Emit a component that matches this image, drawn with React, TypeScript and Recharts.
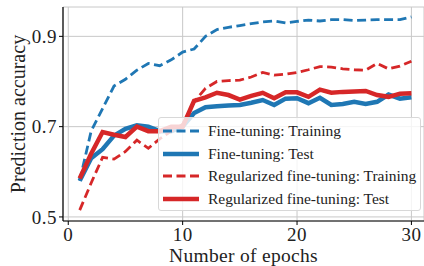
import React from "react";
import { LineChart, Line, XAxis, YAxis, CartesianGrid } from "recharts";

const epochs = [
  1, 2, 3, 4, 5, 6, 7, 8, 9, 10, 11, 12, 13, 14, 15, 16, 17, 18, 19, 20, 21,
  22, 23, 24, 25, 26, 27, 28, 29, 30,
];

const ftTrain = [
  0.58, 0.69, 0.74, 0.79, 0.805, 0.825, 0.84, 0.835, 0.848, 0.865, 0.872, 0.9,
  0.915, 0.92, 0.924, 0.928, 0.932, 0.934, 0.93, 0.933, 0.936, 0.934, 0.937,
  0.937, 0.935, 0.936, 0.937, 0.937, 0.937, 0.943,
];

const ftTest = [
  0.58, 0.63, 0.65, 0.68, 0.695, 0.703, 0.7, 0.69, 0.69, 0.7, 0.73, 0.743,
  0.745, 0.747, 0.748, 0.753, 0.759, 0.748, 0.762, 0.763, 0.752, 0.764, 0.748,
  0.75, 0.755, 0.75, 0.755, 0.771, 0.762, 0.765,
];

const regTrain = [
  0.515, 0.575, 0.632, 0.628, 0.645, 0.67, 0.652, 0.673, 0.69, 0.705, 0.755,
  0.785, 0.8, 0.802, 0.803, 0.81, 0.82, 0.814, 0.816, 0.82, 0.826, 0.833,
  0.832, 0.828, 0.826, 0.825, 0.84, 0.828, 0.834, 0.845,
];

const regTest = [
  0.585, 0.64, 0.688, 0.682, 0.677, 0.7, 0.69, 0.69, 0.7, 0.7, 0.757, 0.765,
  0.775, 0.77, 0.76, 0.768, 0.775, 0.763, 0.776, 0.776, 0.766, 0.782, 0.775,
  0.777, 0.778, 0.779, 0.77, 0.766, 0.773, 0.774,
];

const xTicks = [0, 10, 20, 30];
const yTicks = [0.5, 0.7, 0.9];

const BLUE = "#1f77b4";
const RED = "#d62728";
const FONT = "'Liberation Serif', 'DejaVu Serif', serif";
const DASH = "9 4.5";

const data = epochs.map((e, i) => ({
  epoch: e,
  ftTrain: ftTrain[i],
  ftTest: ftTest[i],
  regTrain: regTrain[i],
  regTest: regTest[i],
}));

const legendItems = [
  { label: "Fine-tuning: Training", color: BLUE, dash: DASH, width: 2.8 },
  { label: "Fine-tuning: Test", color: BLUE, dash: undefined, width: 4.5 },
  { label: "Regularized fine-tuning: Training", color: RED, dash: DASH, width: 2.8 },
  { label: "Regularized fine-tuning: Test", color: RED, dash: undefined, width: 4.5 },
];

function LegendBox() {
  return (
    <div
      style={{
        position: "absolute",
        left: 158,
        top: 117,
        width: 263,
        height: 94,
        boxSizing: "border-box",
        background: "rgba(255,255,255,0.8)",
        border: "1px solid #d8d8d8",
        borderRadius: 3,
        padding: "2px 0 0 4px",
        fontFamily: FONT,
        fontSize: 15.5,
        color: "#222",
      }}
    >
      {legendItems.map((it) => (
        <div
          key={it.label}
          style={{ display: "flex", alignItems: "center", height: 22.6 }}
        >
          <svg width={36} height={10} style={{ marginRight: 9, flexShrink: 0 }}>
            <line
              x1={0}
              y1={5}
              x2={36}
              y2={5}
              stroke={it.color}
              strokeWidth={it.width}
              strokeDasharray={it.dash}
            />
          </svg>
          <span style={{ whiteSpace: "nowrap" }}>{it.label}</span>
        </div>
      ))}
    </div>
  );
}

export default function App() {
  return (
    <div
      style={{
        position: "absolute",
        left: 0,
        top: 0,
        width: 424,
        height: 266,
        overflow: "hidden",
        background: "#fff",
      }}
    >
      <LineChart
        width={424}
        height={266}
        data={data}
        margin={{ top: 7, right: 0, left: 0, bottom: 0 }}
      >
        <CartesianGrid stroke="#c8c8c8" strokeWidth={1} />
        <XAxis
          xAxisId="top"
          orientation="top"
          dataKey="epoch"
          type="number"
          domain={[-0.46, 31.1]}
          ticks={xTicks}
          tick={false}
          tickLine={false}
          height={0}
          axisLine={{ stroke: "#333", strokeWidth: 1.2 }}
        />
        <XAxis
          dataKey="epoch"
          type="number"
          domain={[-0.46, 31.1]}
          ticks={xTicks}
          height={45}
          tickSize={4}
          tickMargin={3}
          tickLine={{ stroke: "#000" }}
          axisLine={{ stroke: "#000", strokeWidth: 1.2 }}
          tick={{ fill: "#222", fontSize: 19, fontFamily: FONT, letterSpacing: 0.5 }}
          label={{
            value: "Number of epochs",
            position: "insideBottom",
            offset: 4,
            fill: "#222",
            fontSize: 19.5,
            fontFamily: FONT,
            letterSpacing: 0.3,
          }}
        />
        <YAxis
          type="number"
          domain={[0.491, 0.965]}
          ticks={yTicks}
          width={63}
          tickSize={4}
          tickFormatter={(v: number) => v.toFixed(1)}
          tickLine={{ stroke: "#000" }}
          axisLine={{ stroke: "#000", strokeWidth: 1.2 }}
          tick={{ fill: "#222", fontSize: 19, fontFamily: FONT, letterSpacing: 0.5 }}
          label={{
            value: "Prediction accuracy",
            angle: -90,
            position: "insideLeft",
            offset: 18,
            style: { textAnchor: "middle" },
            fill: "#222",
            fontSize: 20,
            fontFamily: FONT,
          }}
        />
        <Line
          dataKey="ftTrain"
          stroke={BLUE}
          strokeWidth={2.8}
          strokeDasharray={DASH}
          dot={false}
          isAnimationActive={false}
        />
        <Line
          dataKey="ftTest"
          stroke={BLUE}
          strokeWidth={4.5}
          dot={false}
          isAnimationActive={false}
        />
        <Line
          dataKey="regTrain"
          stroke={RED}
          strokeWidth={2.8}
          strokeDasharray={DASH}
          dot={false}
          isAnimationActive={false}
        />
        <Line
          dataKey="regTest"
          stroke={RED}
          strokeWidth={4.5}
          dot={false}
          isAnimationActive={false}
        />
      </LineChart>
      <LegendBox />
    </div>
  );
}
